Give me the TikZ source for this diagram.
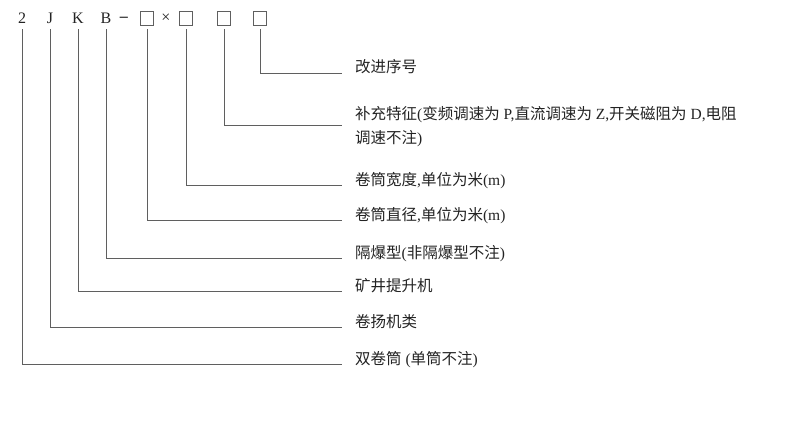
\documentclass[tikz,border=0pt]{standalone}
\usepackage{fontspec}
\setmainfont{Liberation Serif}
\newfontfamily\cjk{Noto Sans CJK SC}
\newcommand{\zh}[1]{{\cjk #1}}
\usetikzlibrary{positioning}

\definecolor{leadgray}{RGB}{95,95,95}
\definecolor{inkgray}{RGB}{35,35,35}

\tikzset{
  code/.style={inner sep=0pt, minimum height=22pt, text=inkgray, font=\fontsize{16}{18}\selectfont},
  slot/.style={draw=leadgray, line width=0.6pt, minimum size=13.5pt, inner sep=0pt, outer sep=4pt},
  lead/.style={draw=leadgray, line width=0.75pt},
  note/.style={anchor=base west, inner sep=0pt, text=inkgray, align=left, font=\fontsize{15.5}{24}\selectfont},
}

\begin{document}
\begin{tikzpicture}[x=1pt, y=-1pt]
    \useasboundingbox (0,0) rectangle (800,425);

    % Model code
    \node[code] (c1) at (22,18) {2};
    \node[code] (c2) at (50,18) {J};
    \node[code] (c3) at (78,18) {K};
    \node[code] (c4) at (106,18) {B};
    \node[code] (dash) at (124,19.5) {\textbf{–}};
    \node[slot] (c5) at (147,18.5) {};
    \node[code] (times) at (166,18) {×};
    \node[slot] (c6) at (186,18.5) {};
    \node[slot] (c7) at (224,18.5) {};
    \node[slot] (c8) at (260,18.5) {};

    % Meanings
    \node[note] (l8) at (355,73) {\zh{改进序号}};
    \node[note, anchor=west] (l7) at (355,127) {\zh{补充特征}(\zh{变频调速为} P,\zh{直流调速为} Z,\zh{开关磁阻为} D,\zh{电阻}\\\zh{调速不注})};
    \node[note] (l6) at (355,185) {\zh{卷筒宽度},\zh{单位为米}(m)};
    \node[note] (l5) at (355,220) {\zh{卷筒直径},\zh{单位为米}(m)};
    \node[note] (l4) at (355,258) {\zh{隔爆型}(\zh{非隔爆型不注})};
    \node[note] (l3) at (355,291) {\zh{矿井提升机}};
    \node[note] (l2) at (355,327) {\zh{卷扬机类}};
    \node[note] (l1) at (355,364) {\zh{双卷筒} (\zh{单筒不注})};

    % Leader lines
    \draw[lead] (c8.south) |- ([xshift=-13pt]l8.base west);
    \draw[lead] (c7.south) |- ([xshift=-13pt,yshift=2pt]l7.west);
    \draw[lead] (c6.south) |- ([xshift=-13pt]l6.base west);
    \draw[lead] (c5.south) |- ([xshift=-13pt]l5.base west);
    \draw[lead] (c4.south) |- ([xshift=-13pt]l4.base west);
    \draw[lead] (c3.south) |- ([xshift=-13pt]l3.base west);
    \draw[lead] (c2.south) |- ([xshift=-13pt]l2.base west);
    \draw[lead] (c1.south) |- ([xshift=-13pt]l1.base west);
\end{tikzpicture}
\end{document}
